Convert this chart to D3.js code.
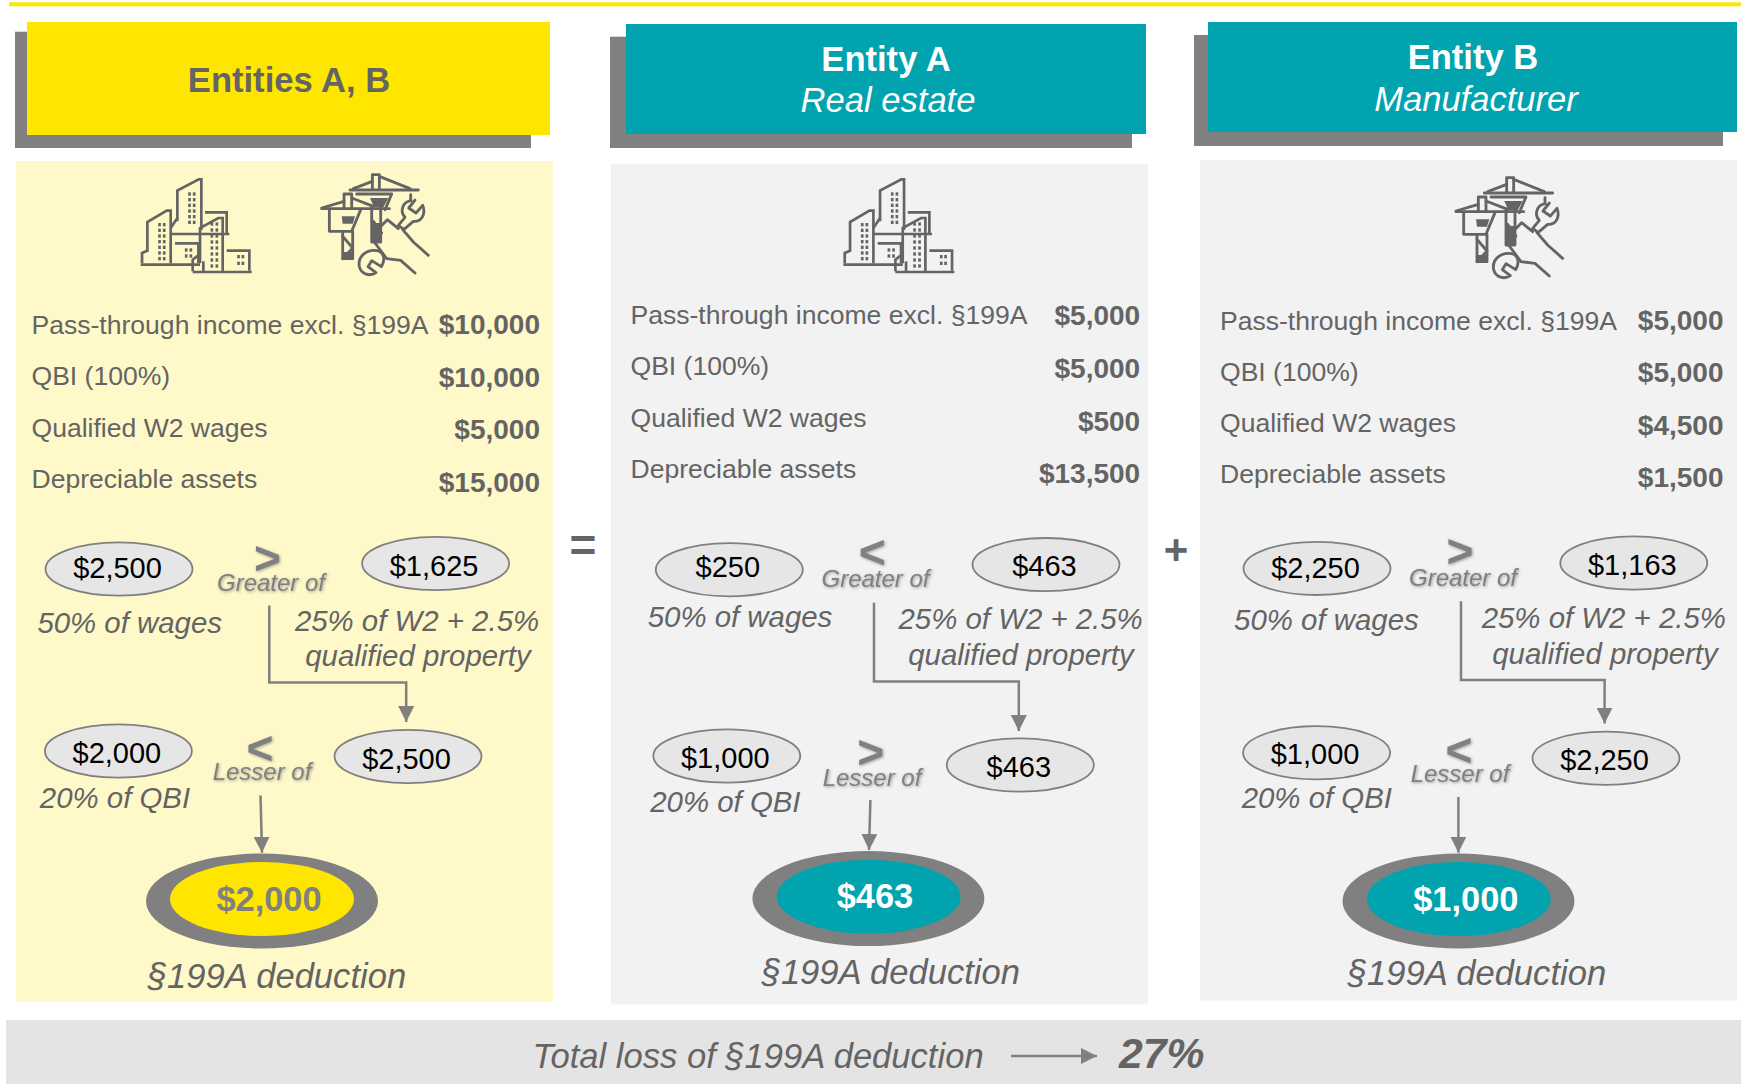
<!DOCTYPE html>
<html>
<head>
<meta charset="utf-8">
<script src="https://cdn.jsdelivr.net/npm/d3@7"></script>
<style>
  html, body { margin: 0; padding: 0; background: #fff; }
  svg { display: block; }
  text { font-family: "Liberation Sans", Arial, sans-serif; }
</style>
</head>
<body>
<svg id="chart" width="1741" height="1084"></svg>
<script>
// data, one entry per panel: Entities A+B, Entity A, Entity B
const titles = ['Entities A, B', 'Entity A', 'Entity B'];
const subtitles = [null, 'Real estate', 'Manufacturer'];
const rowLabels = ['Pass-through income excl. §199A', 'QBI (100%)', 'Qualified W2 wages', 'Depreciable assets'];
const income = [10000, 5000, 5000];
const qbi = [10000, 5000, 5000];
const wages = [5000, 500, 4500];
const assets = [15000, 13500, 1500];
const wageLimit = [2500, 250, 2250];
const wagePropertyLimit = [1625, 463, 1163];
const greaterOf = [2500, 463, 2250];
const qbiLimit = [2000, 1000, 1000];
const deduction = [2000, 463, 1000];
const totalLossLabel = 'Total loss of §199A deduction';
const totalLoss = 0.27;

// layout, kept apart from the values
const layout = [
  { shadow: [15, 31.7, 531, 148], head: [27, 22, 550, 135], panel: [16, 161, 553, 1002], fill: '#ffe600', bg: '#fff9c9', headInk: '#646464',
    titleX: 289, titleY: 92, subX: 0, subY: 0, left: 31.5, right: 540,
    labelY: [334.4, 385, 436.7, 487.6], valueY: [334.4, 386.6, 439.3, 492.4], pillDy: [8.7, 12, 12, 12],
    wage: [119, 569], prop: [435.6, 563.5], best: [408, 756.5], qbi: [118.4, 751], outer: [262, 901], inner: [262, 899], dedText: [269, 911.4],
    sign1: [267.5, 574], greaterText: [271, 591], wageText: [129.7, 633], propText: [417, 630.8], propText2: [418, 666.3],
    elbow: [269.3, 605.6, 682.6, 406.2, 722],
    sign2: [260, 764], lesserText: [262, 780.4], qbiText: [115, 807.8], drop: [260.5, 795.5, 262, 852.7], dedLabel: [277, 987.6],
    building: [140.7, 178], crane: [321.7, 174] },
  { shadow: [610, 36.7, 1132, 148], head: [626, 24, 1146, 134], panel: [611, 164, 1148, 1004.5], fill: '#00a3ae', bg: '#f2f2f2', headInk: '#fff',
    titleX: 886, titleY: 70.7, subX: 888, subY: 112, left: 630.5, right: 1140.2,
    labelY: [324, 374.9, 426.6, 477.7], valueY: [325, 377.7, 430.6, 483.4], pillDy: [7.6, 11.5, 12, 12],
    wage: [729.3, 569.7], prop: [1046, 564.6], best: [1020.3, 765], qbi: [726.8, 756], outer: [868.4, 898.6], inner: [868.7, 896.7], dedText: [875, 907.5],
    sign1: [872.3, 567.8], greaterText: [875.5, 587.3], wageText: [740, 626.5], propText: [1020.6, 628.6], propText2: [1021, 665],
    elbow: [874, 602.7, 681.5, 1018.8, 731],
    sign2: [870.8, 768.2], lesserText: [872, 785.5], qbiText: [725.4, 812], drop: [870.4, 800, 869, 850], dedLabel: [890.8, 984.4],
    building: [843.4, 178], crane: null },
  { shadow: [1194, 35, 1723, 146], head: [1208, 22, 1737, 132], panel: [1200, 160, 1737, 1000.6], fill: '#00a3ae', bg: '#f2f2f2', headInk: '#fff',
    titleX: 1473, titleY: 69, subX: 1476, subY: 111, left: 1220, right: 1723.5,
    labelY: [330, 381, 432.2, 483.4], valueY: [330, 382.3, 435, 487.4], pillDy: [10, 11.5, 12, 11.5],
    wage: [1317, 568.4], prop: [1633.8, 563], best: [1606, 758.3], qbi: [1316.6, 752.8], outer: [1458.5, 901], inner: [1458.8, 899], dedText: [1465.8, 911],
    sign1: [1460, 566.8], greaterText: [1463, 586], wageText: [1326.4, 629.5], propText: [1603.8, 627.6], propText2: [1605, 664],
    elbow: [1461, 601.3, 680, 1604.6, 723.6],
    sign2: [1459, 765.7], lesserText: [1460, 781.9], qbiText: [1316.8, 807.8], drop: [1458.4, 797, 1458.4, 852.7], dedLabel: [1477, 984.5],
    building: null, crane: [1456, 177] }
];

const ink = '#646464', grey = '#808080', money = d3.format('$,');
const svg = d3.select('#chart');

const defs = svg.append('defs');
defs.append('filter').attr('id', 'soft').attr('x', '-10%').attr('y', '-20%').attr('width', '125%').attr('height', '150%')
  .append('feDropShadow').attr('dx', 1).attr('dy', 1).attr('stdDeviation', 1.4).attr('flood-color', '#777').attr('flood-opacity', 0.7);
defs.append('marker').attr('id', 'head').attr('markerUnits', 'userSpaceOnUse')
  .attr('viewBox', '0 0 16 16').attr('refX', 16).attr('refY', 8).attr('markerWidth', 16).attr('markerHeight', 16).attr('orient', 'auto')
  .append('path').attr('d', 'M0,0L16,8L0,16Z').attr('fill', grey);

function box(g, b, fill) {
  g.append('rect').attr('x', b[0]).attr('y', b[1]).attr('width', b[2] - b[0]).attr('height', b[3] - b[1]).attr('fill', fill);
}
function label(g, str, p, size, opts) {
  opts = opts || {};
  return g.append('text').text(str).attr('x', p[0]).attr('y', p[1])
    .attr('font-size', size).attr('fill', opts.fill || ink)
    .attr('text-anchor', opts.anchor || 'middle')
    .attr('font-weight', opts.bold ? 'bold' : null)
    .attr('font-style', opts.italic ? 'italic' : null);
}
function oval(g, c, rx, ry, fill, stroke) {
  g.append('ellipse').attr('cx', c[0]).attr('cy', c[1]).attr('rx', rx).attr('ry', ry).attr('fill', fill)
    .attr('stroke', stroke || 'none').attr('stroke-width', stroke ? 1.8 : 0);
}
function pill(g, c, v, dy) {
  oval(g, c, 73.5, 26.6, '#e6e6e6', grey);
  label(g, money(v), [c[0] - 1.5, c[1] + dy], 29, { fill: '#000' });
}

// icons are drawn in a 3x grid, then scaled down
function buildingIcon(g, at) {
  const ic = g.append('g').attr('transform', `translate(${at[0]},${at[1]}) scale(0.3333) translate(-62,-40)`)
    .attr('fill', 'none').attr('stroke', ink).attr('stroke-width', 8);
  const lines = ['M62 300H240', 'M218 322H395', 'M172 170V78L236 44H244V196', 'M82 262V172L140 138H152V296',
    'M66 296V265L82 258', 'M152 208H328', 'M165 236H235V296', 'M240 296V190L295 160H308V320', 'M218 320V285L240 268',
    'M320 258H388V318', 'M255 143H320V205', 'M152 190L172 160', 'M250 320V290'];
  lines.forEach(d => ic.append('path').attr('d', d));
  const grids = [[[208, 222], d3.range(88, 190, 17)], [[118, 132], d3.range(180, 285, 17)],
    [[275, 290], d3.range(178, 305, 18)], [[198, 212], [256, 274]], [[355, 368], [276, 296]]];
  grids.forEach(([xs, ys]) => xs.forEach(x => ys.forEach(y =>
    ic.append('rect').attr('x', x - 3.5).attr('y', y - 5).attr('width', 8).attr('height', 10).attr('fill', ink).attr('stroke', 'none'))));
}
function craneIcon(g, at) {
  const ic = g.append('g').attr('transform', `translate(${at[0]},${at[1]}) scale(0.3333) translate(-605,-28)`)
    .attr('fill', 'none').attr('stroke', ink).attr('stroke-width', 8.5).attr('stroke-linejoin', 'round').attr('stroke-linecap', 'round');
  const lines = ['M690 76H895', 'M757 72V30H778V72', 'M778 35L870 72', 'M757 50L700 72', 'M710 88H815L795 135',
    'M605 132H808', 'M605 130L672 110', 'M672 130V88H695V130', 'M695 100L760 125',
    'M628 135V200H695L722 135', 'M668 200V282H698V200', 'M668 215L698 250L668 282', 'M755 125V232H782V125', 'M760 170L785 205',
    'M775 192L802 165L835 192', 'M848 195L880 232L925 272', 'M765 235L800 282L842 287L885 325',
    'M872 90V108C848 112 838 140 855 158L835 182L852 194L880 170C905 172 918 148 908 122L888 145L866 130L885 106',
    'M772 258C738 252 712 278 718 306C724 330 750 336 768 324L744 306L755 288L784 306C798 284 790 262 772 258'];
  lines.forEach(d => ic.append('path').attr('d', d));
  ic.append('path').attr('d', 'M750 100H805L790 128H762Z').attr('fill', ink).attr('stroke', 'none');
  ic.append('path').attr('d', 'M665 155H705L698 177H668Z').attr('fill', ink).attr('stroke', 'none');
  ic.append('rect').attr('x', 758).attr('y', 175).attr('width', 26).attr('height', 56).attr('fill', ink).attr('stroke', 'none');
  ic.append('rect').attr('x', 668).attr('y', 262).attr('width', 30).attr('height', 20).attr('fill', ink).attr('stroke', 'none');
}

svg.append('rect').attr('x', 9).attr('y', 2.3).attr('width', 1732).attr('height', 4).attr('fill', '#ffe600');

layout.forEach((lay, i) => {
  const g = svg.append('g');
  box(g, lay.shadow, grey);
  box(g, lay.head, lay.fill);
  box(g, lay.panel, lay.bg);

  label(g, titles[i], [lay.titleX, lay.titleY], 34.6, { bold: true, fill: lay.headInk });
  if (subtitles[i]) label(g, subtitles[i], [lay.subX, lay.subY], 34.6, { italic: true, fill: lay.headInk });

  if (lay.building) buildingIcon(g, lay.building);
  if (lay.crane) craneIcon(g, lay.crane);

  const rowValues = [income[i], qbi[i], wages[i], assets[i]];
  rowLabels.forEach((t, r) => {
    label(g, t, [lay.left, lay.labelY[r]], 26.55, { anchor: 'start' });
    label(g, money(rowValues[r]), [lay.right, lay.valueY[r]], 28, { anchor: 'end', bold: true });
  });

  pill(g, lay.wage, wageLimit[i], lay.pillDy[0]);
  pill(g, lay.prop, wagePropertyLimit[i], lay.pillDy[1]);
  pill(g, lay.best, greaterOf[i], lay.pillDy[2]);
  pill(g, lay.qbi, qbiLimit[i], lay.pillDy[3]);

  label(g, wageLimit[i] > wagePropertyLimit[i] ? '>' : '<', lay.sign1, 46, { bold: true, fill: grey }).attr('filter', 'url(#soft)');
  label(g, 'Greater of', lay.greaterText, 24, { italic: true, fill: grey }).attr('filter', 'url(#soft)');
  label(g, qbiLimit[i] > greaterOf[i] ? '>' : '<', lay.sign2, 46, { bold: true, fill: grey }).attr('filter', 'url(#soft)');
  label(g, 'Lesser of', lay.lesserText, 24, { italic: true, fill: grey }).attr('filter', 'url(#soft)');

  label(g, '50% of wages', lay.wageText, 29.4, { italic: true });
  label(g, '25% of W2 + 2.5%', lay.propText, 29.4, { italic: true });
  label(g, 'qualified property', lay.propText2, 29.4, { italic: true });
  label(g, '20% of QBI', lay.qbiText, 29.4, { italic: true });

  const e = lay.elbow, elbowPath = d3.path();
  elbowPath.moveTo(e[0], e[1]); elbowPath.lineTo(e[0], e[2]); elbowPath.lineTo(e[3], e[2]); elbowPath.lineTo(e[3], e[4]);
  g.append('path').attr('d', elbowPath.toString()).attr('fill', 'none').attr('stroke', grey).attr('stroke-width', 2.5).attr('marker-end', 'url(#head)');
  const dr = lay.drop;
  g.append('line').attr('x1', dr[0]).attr('y1', dr[1]).attr('x2', dr[2]).attr('y2', dr[3]).attr('stroke', grey).attr('stroke-width', 2.5).attr('marker-end', 'url(#head)');

  oval(g, lay.outer, 116, 47.5, grey);
  oval(g, lay.inner, 92, 37, lay.fill);
  label(g, money(deduction[i]), lay.dedText, 34.4, { bold: true, fill: i === 0 ? grey : '#fff' });
  label(g, '§199A deduction', lay.dedLabel, 34.6, { italic: true });
});

label(svg, '=', [583, 561], 46, { bold: true });
label(svg, '+', [1176, 564], 42, { bold: true });

box(svg, [6, 1020, 1741, 1084], '#e4e4e4');
label(svg, totalLossLabel, [532.5, 1068], 34.6, { anchor: 'start', italic: true });
svg.append('line').attr('x1', 1011).attr('y1', 1056).attr('x2', 1097).attr('y2', 1056).attr('stroke', grey).attr('stroke-width', 2.5).attr('marker-end', 'url(#head)');
label(svg, d3.format('.0%')(totalLoss), [1119, 1068], 42.7, { anchor: 'start', bold: true, italic: true });
</script>
</body>
</html>
